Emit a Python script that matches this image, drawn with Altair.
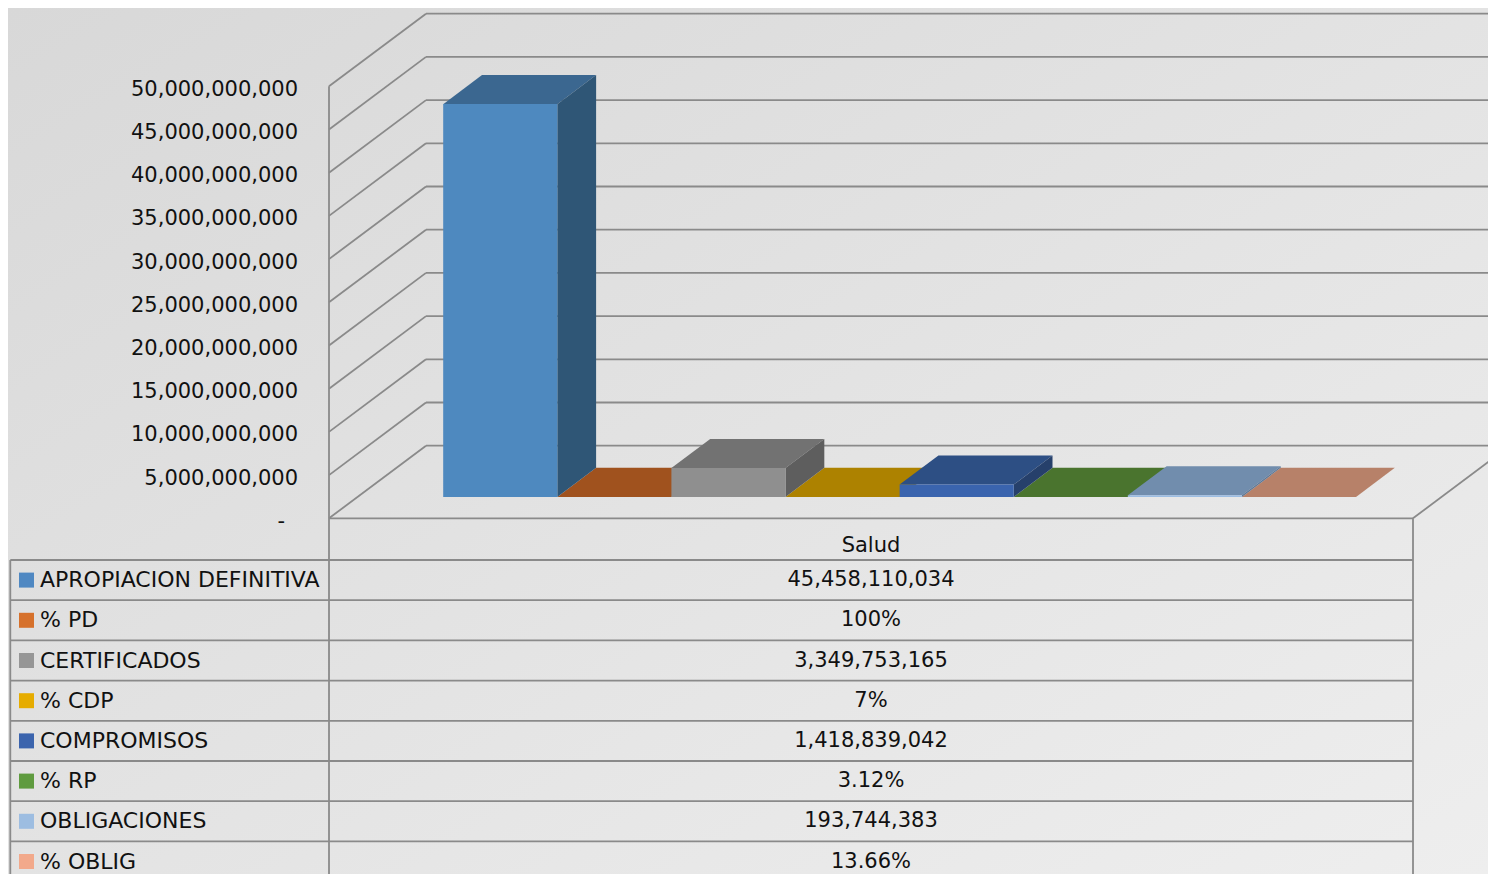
import altair as alt
import pandas as pd

# ---------------- data ----------------
categories = ["APROPIACION DEFINITIVA", "% PD", "CERTIFICADOS", "% CDP",
              "COMPROMISOS", "% RP", "OBLIGACIONES", "% OBLIG"]
values = [45458110034, 1.0, 3349753165, 0.07, 1418839042, 0.0312, 193744383, 0.1366]
value_labels = ["45,458,110,034", "100%", "3,349,753,165", "7%",
                "1,418,839,042", "3.12%", "193,744,383", "13.66%"]
group_label = "Salud"
y_ticks = [0, 5e9, 10e9, 15e9, 20e9, 25e9, 30e9, 35e9, 40e9, 45e9, 50e9]

legend_colors = ["#4F88C2", "#D6712C", "#969696", "#E6AC00",
                 "#3B64AD", "#5F9B3F", "#9DBDE1", "#F2A98B"]
front_colors = ["#4E89BF", "#C9692A", "#8F8F8F", "#D9A100",
                "#3A64AE", "#5A913B", "#9CBDE2", "#E8A083"]
top_colors = ["#3B6790", "#A0521E", "#727272", "#AD8200",
              "#2D4F84", "#4A742E", "#718DAD", "#B78169"]
side_colors = ["#2F5676", "#8A4719", "#5E5E5E", "#946F00",
               "#26406B", "#3E6126", "#5E7896", "#9C6E59"]

# ---------------- layout ----------------
W, H = 1480, 866
PX_PER_UNIT = 8.64e-9          # pixels per peso
FLOOR_Y = 510.3                # front floor edge, px from top
Y_MAX = FLOOR_Y / PX_PER_UNIT
Y_MIN = -(H - FLOOR_Y) / PX_PER_UNIT
DEPTH_X = 97.0
DEPTH_V = 72.6 / PX_PER_UNIT
FLOOR_L, FLOOR_R = 321.0, 1405.0
GAP = 0.75
N = len(categories)
BW = (FLOOR_R - FLOOR_L) / (N + 2 * GAP)
D0, D1 = 0.295, 0.695
BASE = D0 * DEPTH_V
BDX = (D1 - D0) * DEPTH_X
BDV = (D1 - D0) * DEPTH_V
LABEL_RIGHT = 290.0
ZERO_LABEL_RIGHT = 277.0

X_SCALE = alt.Scale(domain=[0, W], nice=False, zero=False)
Y_SCALE = alt.Scale(domain=[Y_MIN, Y_MAX], nice=False, zero=False)

ROW_H = 40.2
TABLE_TOP = 552.0
R_TOP = -TABLE_TOP / ROW_H
R_BOT = (H - TABLE_TOP) / ROW_H
T_SCALE = alt.Scale(domain=[R_TOP, R_BOT], reverse=True, nice=False, zero=False)
HEAD_R = -(TABLE_TOP - FLOOR_Y) / ROW_H   # top of the header row

FONT = "DejaVu Sans"
FS = 21
FS_LBL = 22
TXT = "#111111"
LINE = "#8A8A8A"
LW = 1.8

# ---------------- plot frames ----------------
fronts, tops, sides = [], [], []
for i, (cat, v) in enumerate(zip(categories, values)):
    x0 = FLOOR_L + GAP * BW + D0 * DEPTH_X + i * BW
    x1 = x0 + BW
    top = BASE + v
    fronts.append({"bar": cat, "x0": x0, "x1": x1, "yb": BASE, "yt": top, "c": front_colors[i]})
    tops.append({"bar": cat, "y": top, "xl": x0, "xr": x1, "c": top_colors[i]})
    tops.append({"bar": cat, "y": top + BDV, "xl": x0 + BDX, "xr": x1 + BDX, "c": top_colors[i]})
    sides.append({"bar": cat, "x": x1, "ylo": BASE, "yhi": top, "c": side_colors[i]})
    sides.append({"bar": cat, "x": x1 + BDX, "ylo": BASE + BDV, "yhi": top + BDV, "c": side_colors[i]})

rules = []
for v in y_ticks:
    rules.append({"x": FLOOR_L, "x2": FLOOR_L + DEPTH_X, "y": v, "y2": v + DEPTH_V})
    rules.append({"x": FLOOR_L + DEPTH_X, "x2": W, "y": v + DEPTH_V, "y2": v + DEPTH_V})
rules.append({"x": FLOOR_L, "x2": FLOOR_R, "y": 0, "y2": 0})
rules.append({"x": FLOOR_R, "x2": FLOOR_R + DEPTH_X, "y": 0, "y2": DEPTH_V})
rules.append({"x": FLOOR_L, "x2": FLOOR_L, "y": max(y_ticks), "y2": Y_MIN})

df_front = pd.DataFrame(fronts)
df_top = pd.DataFrame(tops)
df_side = pd.DataFrame(sides)
df_rules = pd.DataFrame(rules)
df_ticks = pd.DataFrame({"v": y_ticks})

bg = alt.Chart(pd.DataFrame({"a": [0]})).mark_rect(
    fill=alt.Gradient(gradient="linear",
                      stops=[alt.GradientStop(color="#D8D8D8", offset=0),
                             alt.GradientStop(color="#EEEEEE", offset=1)],
                      x1=0, y1=0, x2=1, y2=1)
).encode(x=alt.value(0), x2=alt.value(W), y=alt.value(0), y2=alt.value(H))

grid = alt.Chart(df_rules).mark_rule(color=LINE, strokeWidth=LW, clip=True).encode(
    x=alt.X("x:Q", scale=X_SCALE, axis=None), x2="x2:Q",
    y=alt.Y("y:Q", scale=Y_SCALE, axis=None), y2="y2:Q")

# value-axis labels, placed through the y scale at the front edge of the left wall
tick_labels = alt.Chart(df_ticks).transform_calculate(
    t="datum.v == 0 ? '-' : format(datum.v, ',')",
    lx=f"datum.v == 0 ? {ZERO_LABEL_RIGHT} : {LABEL_RIGHT}"
).mark_text(align="right", baseline="middle", font=FONT, fontSize=FS, color=TXT, dy=3.5).encode(
    x=alt.X("lx:Q", scale=X_SCALE, axis=None),
    y=alt.Y("v:Q", scale=Y_SCALE, axis=None), text="t:N")

top_faces = alt.Chart(df_top).mark_area(orient="horizontal").encode(
    y=alt.Y("y:Q", scale=Y_SCALE, axis=None, stack=None),
    x=alt.X("xl:Q", scale=X_SCALE, axis=None, stack=None), x2="xr:Q",
    color=alt.Color("c:N", scale=None), detail="bar:N")

side_faces = alt.Chart(df_side).mark_area(orient="vertical").encode(
    x=alt.X("x:Q", scale=X_SCALE, axis=None, stack=None),
    y=alt.Y("ylo:Q", scale=Y_SCALE, axis=None, stack=None), y2="yhi:Q",
    color=alt.Color("c:N", scale=None), detail="bar:N")

front_faces = alt.Chart(df_front).mark_rect().encode(
    x=alt.X("x0:Q", scale=X_SCALE, axis=None), x2="x1:Q",
    y=alt.Y("yb:Q", scale=Y_SCALE, axis=None), y2="yt:Q",
    color=alt.Color("c:N", scale=None))

plot = alt.layer(bg, grid, tick_labels, top_faces, side_faces, front_faces)

# ---------------- table frames ----------------
df_rows = pd.DataFrame({
    "r": [k + 0.5 for k in range(N)],
    "label": categories,
    "val": value_labels,
    "c": legend_colors,
})
df_h = pd.DataFrame({"r": list(range(N)), "x": [2.3] * N, "x2": [FLOOR_R] * N})
df_v = pd.DataFrame({"x": [2.3, FLOOR_R], "r": [0, HEAD_R], "r2": [R_BOT, R_BOT]})
df_head = pd.DataFrame({"r": [HEAD_R * 0.34], "x": [(FLOOR_L + FLOOR_R) / 2], "t": [group_label]})

hl = alt.Chart(df_h).mark_rule(color=LINE, strokeWidth=LW).encode(
    x=alt.X("x:Q", scale=X_SCALE, axis=None), x2="x2:Q",
    y=alt.Y("r:Q", scale=T_SCALE, axis=None))
vl = alt.Chart(df_v).mark_rule(color=LINE, strokeWidth=LW).encode(
    x=alt.X("x:Q", scale=X_SCALE, axis=None),
    y=alt.Y("r:Q", scale=T_SCALE, axis=None), y2="r2:Q")
squares = alt.Chart(df_rows).mark_square(size=225, opacity=1, filled=True).encode(
    x=alt.X("sx:Q", scale=X_SCALE, axis=None),
    y=alt.Y("r:Q", scale=T_SCALE, axis=None),
    color=alt.Color("c:N", scale=None)).transform_calculate(sx="18.5")
labels = alt.Chart(df_rows).mark_text(align="left", baseline="middle", font=FONT,
                                      fontSize=FS_LBL, color=TXT).encode(
    x=alt.X("lx:Q", scale=X_SCALE, axis=None),
    y=alt.Y("r:Q", scale=T_SCALE, axis=None), text="label:N").transform_calculate(lx="32")
vals = alt.Chart(df_rows).mark_text(align="center", baseline="middle", font=FONT,
                                    fontSize=FS, color=TXT).encode(
    x=alt.X("vx:Q", scale=X_SCALE, axis=None),
    y=alt.Y("r:Q", scale=T_SCALE, axis=None), text="val:N").transform_calculate(
    vx=str((FLOOR_L + FLOOR_R) / 2))
head = alt.Chart(df_head).mark_text(align="center", baseline="middle", font=FONT,
                                    fontSize=FS, color=TXT).encode(
    x=alt.X("x:Q", scale=X_SCALE, axis=None),
    y=alt.Y("r:Q", scale=T_SCALE, axis=None), text="t:N")

table = alt.layer(hl, vl, squares, labels, vals, head)

chart = alt.layer(plot, table).resolve_scale(y="independent").properties(
    width=W, height=H, padding=0, autosize="none", background="#DCDCDC"
).configure_view(stroke=None)

chart.save("out.html", embed_options={"renderer": "svg", "actions": False})
